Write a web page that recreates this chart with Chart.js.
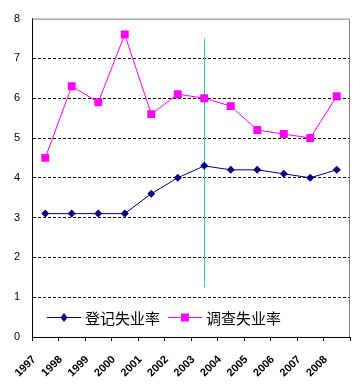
<!DOCTYPE html>
<html>
<head>
<meta charset="utf-8">
<script src="https://cdn.jsdelivr.net/npm/chart.js@4"></script>
<style>
  html, body { margin: 0; padding: 0; background: #fff; }
  #wrap { width: 362px; height: 386px; }
</style>
</head>
<body>
<div id="wrap"><canvas id="rateChart" width="362" height="386"></canvas></div>
<script>
//Years along the bottom
const years = ["1997", "1998", "1999", "2000", "2001", "2002", "2003", "2004", "2005", "2006", "2007", "2008"];

//Registered unemployment rate (%)
const registeredRate = [3.1, 3.1, 3.1, 3.1, 3.6, 4.0, 4.3, 4.2, 4.2, 4.1, 4.0, 4.2];

//Surveyed unemployment rate (%)
const surveyedRate = [4.5, 6.3, 5.9, 7.6, 5.6, 6.1, 6.0, 5.8, 5.2, 5.1, 5.0, 6.05];

const seriesNames = ["登记失业率", "调查失业率"];

//Y axis goes 0..8 in steps of 1
const yMin = 0;
const yMax = 8;
const yStep = 1;

//The green vertical marker line at 2003
const markerYear = "2003";
const markerFrom = 1.25;
const markerTo = 7.5;

//Grey frame on top and right of the plot
const framePlugin = {
  id: "framePlugin",
  beforeDatasetsDraw(chart) {
    const { ctx, chartArea } = chart;
    ctx.save();
    ctx.strokeStyle = "#808080";
    ctx.lineWidth = 1;
    ctx.beginPath();
    ctx.moveTo(chartArea.left, chartArea.top + 0.5);
    ctx.lineTo(chartArea.right - 0.5, chartArea.top + 0.5);
    ctx.lineTo(chartArea.right - 0.5, chartArea.bottom);
    ctx.stroke();
    ctx.restore();
  },
};

//Draws the vertical marker from the scales
const markerPlugin = {
  id: "markerPlugin",
  beforeDatasetsDraw(chart) {
    const { ctx, scales } = chart;
    const x = Math.round(scales.x.getPixelForValue(years.indexOf(markerYear))) + 0.5;
    ctx.save();
    ctx.strokeStyle = "#33cc99";
    ctx.lineWidth = 1;
    ctx.beginPath();
    ctx.moveTo(x, scales.y.getPixelForValue(markerTo));
    ctx.lineTo(x, scales.y.getPixelForValue(markerFrom));
    ctx.stroke();
    ctx.restore();
  },
};

//Legend sits inside the plot, near the bottom
const insideLegend = {
  id: "insideLegend",
  afterDatasetsDraw(chart) {
    const { ctx, chartArea } = chart;
    const y = chartArea.bottom - 20;
    let x = chartArea.left + 15;
    ctx.save();
    ctx.font = '15px "Noto Sans CJK SC"';
    ctx.textBaseline = "middle";
    chart.data.datasets.forEach((ds) => {
      const lineLen = 34;
      ctx.strokeStyle = ds.borderColor;
      ctx.lineWidth = 1;
      ctx.beginPath();
      ctx.moveTo(x, y + 0.5);
      ctx.lineTo(x + lineLen, y + 0.5);
      ctx.stroke();

      const mx = x + lineLen / 2;
      ctx.fillStyle = ds.pointBackgroundColor;
      ctx.beginPath();
      if (ds.pointStyle === "rectRot") {
        ctx.moveTo(mx, y - 4);
        ctx.lineTo(mx + 3.5, y + 0.5);
        ctx.lineTo(mx, y + 5);
        ctx.lineTo(mx - 3.5, y + 0.5);
        ctx.closePath();
      } else {
        ctx.rect(mx - 4, y - 3.5, 8, 8);
      }
      ctx.fill();

      ctx.fillStyle = "#000";
      ctx.fillText(ds.label, x + lineLen + 4, y + 1);
      x += lineLen + 4 + ctx.measureText(ds.label).width + 8;
    });
    ctx.restore();
  },
};

function renderChart() {
  new Chart(document.getElementById("rateChart"), {
    type: "line",
    data: {
      labels: years,
      datasets: [
        {
          label: seriesNames[0],
          data: registeredRate,
          borderColor: "#000080",
          backgroundColor: "#000080",
          pointBackgroundColor: "#000080",
          borderWidth: 1,
          pointStyle: "rectRot",
          pointRadius: 4,
          pointBorderWidth: 0,
          tension: 0,
        },
        {
          label: seriesNames[1],
          data: surveyedRate,
          borderColor: "#ff00ff",
          backgroundColor: "#ff00ff",
          pointBackgroundColor: "#ff00ff",
          borderWidth: 1,
          pointStyle: "rect",
          pointRadius: 5.6,
          pointBorderWidth: 0,
          tension: 0,
        },
      ],
    },
    options: {
      responsive: false,
      animation: false,
      devicePixelRatio: 1,
      layout: { padding: { top: 14, right: 12, left: 0, bottom: 0 } },
      plugins: {
        legend: { display: false },
        tooltip: { enabled: false },
      },
      scales: {
        x: {
          offset: true,
          afterFit: (scale) => { scale.height = 49; },
          grid: {
            offset: true,
            drawOnChartArea: false,
            drawTicks: true,
            tickLength: 4,
            color: "#000",
          },
          border: { color: "#000", width: 1 },
          ticks: {
            autoSkip: false,
            minRotation: 45,
            maxRotation: 45,
            labelOffset: -11,
            padding: 12,
            color: "#000",
            font: { family: "Liberation Sans", size: 11, weight: "bold" },
          },
        },
        y: {
          min: yMin,
          max: yMax,
          afterFit: (scale) => { scale.width = 32; },
          grid: {
            drawTicks: false,
            color: (c) => (c.tick.value > yMin && c.tick.value < yMax ? "#000" : "rgba(0,0,0,0)"),
          },
          border: { color: "#000", width: 1, dash: [3, 2] },
          ticks: {
            stepSize: yStep,
            padding: 12,
            color: "#000",
            font: { family: "Liberation Sans", size: 11 },
          },
        },
      },
    },
    plugins: [framePlugin, markerPlugin, insideLegend],
  });
}

document.addEventListener("DOMContentLoaded", renderChart);
</script>
</body>
</html>
